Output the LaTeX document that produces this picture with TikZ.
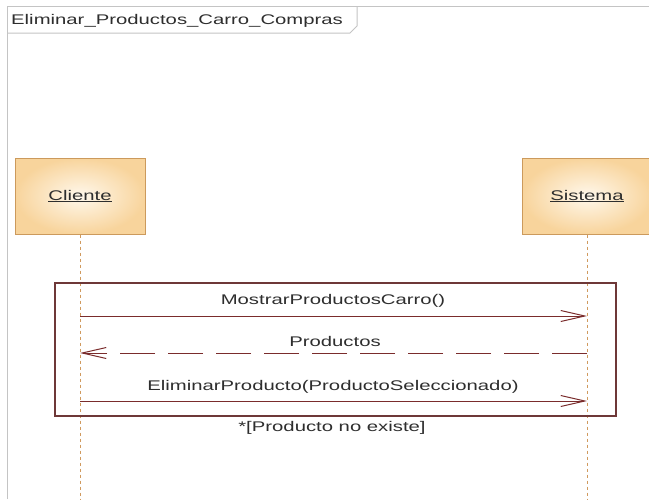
\documentclass[tikz,border=0pt]{standalone}
\usepackage{fontspec}
\setmainfont{Liberation Sans}[FakeStretch=1.45]
\usetikzlibrary{arrows.meta}

\definecolor{framegray}{HTML}{C4C4C4}
\definecolor{headborder}{HTML}{CC9A5C}
\definecolor{headinner}{HTML}{FFF8EC}
\definecolor{headouter}{HTML}{F8D49C}
\definecolor{lifecol}{HTML}{D09A5E}
\definecolor{fragcol}{HTML}{6E3838}
\definecolor{msgcol}{HTML}{7A2C2C}
\definecolor{txtcol}{HTML}{2E2E2E}

\tikzset{
  every node/.style={font=\fontsize{14}{16}\selectfont, text=txtcol},
  headbox/.style={draw=headborder, line width=1pt, inner color=headinner, outer color=headouter,
                  minimum width=130pt, minimum height=76pt, inner sep=0pt},
  lifeline/.style={draw=lifecol, line width=1pt, dash pattern=on 3pt off 3pt},
  fragment/.style={draw=fragcol, line width=1.2pt, minimum width=561pt, minimum height=133pt, inner sep=0pt},
  callmsg/.style={draw=msgcol, line width=1pt, -{Straight Barb[length=24pt,width=11pt,line width=1pt]}},
  replymsg/.style={draw=msgcol, line width=1pt, dash pattern=on 35pt off 13pt,
                   -{Straight Barb[length=24pt,width=11pt,line width=1pt]}},
  msglabel/.style={inner sep=0pt, anchor=center},
}

\begin{document}
\begin{tikzpicture}[x=1pt, y=-1pt]
  \useasboundingbox[fill=white] (0,0) rectangle (649,499);

  % diagram frame with its name tab
  \draw[framegray, line width=1pt] (7,499) -- (7,6) -- (649,6);
  \draw[framegray, line width=1pt] (7,33) -- (350,33) -- (357,26) -- (357,6);
  \node[anchor=west, inner sep=0pt] (title) at (11,21) {Eliminar\_Productos\_Carro\_Compras};

  % lifeline heads
  \node[headbox] (cli) at (80,196) {\underline{Cliente}};
  \node[headbox] (sis) at (587,196) {\underline{Sistema}};

  % lifelines
  \coordinate (cliEnd) at (80,499);
  \coordinate (sisEnd) at (587,499);
  \draw[lifeline] (cli.south) -- (cliEnd);
  \draw[lifeline] (sis.south) -- (sisEnd);

  % loop fragment
  \node[fragment] (frag) at (335.5,349.5) {};

  % message end points on the lifelines
  \coordinate (c1) at (80,316);
  \coordinate (s1) at (587,316);
  \coordinate (c2) at (80,353);
  \coordinate (s2) at (587,353);
  \coordinate (c3) at (80,401);
  \coordinate (s3) at (587,401);

  \draw[callmsg] (c1) -- (s1);
  \draw[replymsg] (s2) -- (c2);
  \draw[callmsg] (c3) -- (s3);

  \node[msglabel] (m1) at (333,301) {MostrarProductosCarro()};
  \node[msglabel] (m2) at (335,341) {Productos};
  \node[msglabel] (m3) at (333,387) {EliminarProducto(ProductoSeleccionado)};
  \node[msglabel] (guard) at (332,428) {*[Producto no existe]};
\end{tikzpicture}
\end{document}
